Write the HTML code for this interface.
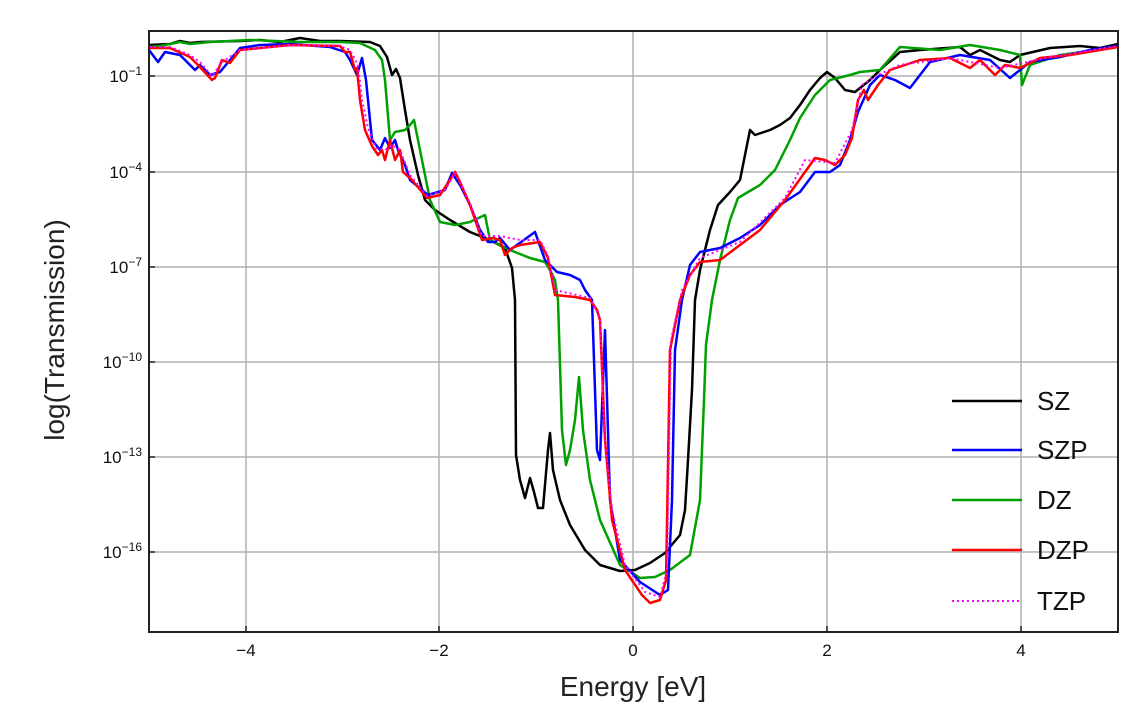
<!DOCTYPE html>
<html><head><style>body{margin:0;background:#fff}</style></head><body>
<svg width="1131" height="718" viewBox="0 0 1131 718" xmlns="http://www.w3.org/2000/svg" font-family="Liberation Sans, DejaVu Sans, sans-serif">
<rect width="1131" height="718" fill="#fff"/>
<g stroke="#b0b0b0" stroke-width="1.5">
<line x1="246" y1="31" x2="246" y2="632"/><line x1="439" y1="31" x2="439" y2="632"/><line x1="633" y1="31" x2="633" y2="632"/><line x1="827" y1="31" x2="827" y2="632"/><line x1="1021" y1="31" x2="1021" y2="632"/>
<line x1="149" y1="76" x2="1118" y2="76"/><line x1="149" y1="172" x2="1118" y2="172"/><line x1="149" y1="267" x2="1118" y2="267"/><line x1="149" y1="362" x2="1118" y2="362"/><line x1="149" y1="457" x2="1118" y2="457"/><line x1="149" y1="552" x2="1118" y2="552"/>
</g>
<g stroke="#222" stroke-width="1.5">
<line x1="246" y1="632" x2="246" y2="626"/><line x1="439" y1="632" x2="439" y2="626"/><line x1="633" y1="632" x2="633" y2="626"/><line x1="827" y1="632" x2="827" y2="626"/><line x1="1021" y1="632" x2="1021" y2="626"/>
<line x1="149" y1="76" x2="155" y2="76"/><line x1="149" y1="172" x2="155" y2="172"/><line x1="149" y1="267" x2="155" y2="267"/><line x1="149" y1="362" x2="155" y2="362"/><line x1="149" y1="457" x2="155" y2="457"/><line x1="149" y1="552" x2="155" y2="552"/>
</g>
<g fill="none" stroke-width="2.5" stroke-linejoin="round">
<polyline stroke="#000" points="149,45 170,44 180,41 190,43 200,42 240,41 260,40 280,42 300,38 320,41 340,41 370,42 380,46 387,57 392,75 396,69 400,78 405,110 410,140 418,175 425,200 435,210 450,220 470,232 490,240 505,248 512,268 515,300 516,455 520,480 525,498 530,478 534,492 538,508 543,508 548,450 550,433 553,470 560,500 570,525 585,550 600,565 620,571 635,570 650,563 665,553 680,535 685,510 688,460 692,390 695,300 700,270 710,230 718,205 730,192 740,180 746,150 750,130 755,135 770,130 780,125 790,118 800,105 810,90 820,78 827,72 835,78 845,90 855,92 870,80 880,70 900,52 920,50 960,47 970,55 980,50 1000,60 1010,62 1020,55 1050,48 1080,46 1100,48 1118,44"/>
<polyline stroke="#00a000" points="149,47 160,46 170,44 180,42 190,44 210,42 250,40 300,42 340,42 360,43 375,50 382,60 385,80 390,140 395,132 405,130 410,125 414,120 418,140 422,160 430,200 440,222 455,225 470,222 485,215 490,240 500,245 510,250 530,258 545,262 550,270 555,280 558,300 562,430 566,465 570,450 575,420 579,377 583,430 590,480 600,520 620,565 640,578 655,577 670,570 690,555 700,500 704,400 706,345 712,300 720,260 730,220 738,198 760,185 775,170 790,140 800,118 815,95 830,80 850,75 860,72 880,70 900,47 940,50 970,45 1000,50 1020,55 1022,85 1030,65 1060,55 1118,47"/>
<polyline stroke="#0000ff" points="149,50 158,62 165,52 180,55 195,70 200,65 210,75 220,72 240,48 260,45 290,44 330,47 345,52 350,60 357,75 362,58 366,80 372,140 380,150 385,138 390,148 395,140 398,150 405,165 410,180 428,195 445,190 452,173 460,185 470,205 480,230 488,242 495,242 500,238 510,250 535,232 545,260 557,272 570,275 580,280 585,290 592,300 597,450 600,460 605,330 610,500 620,560 640,582 660,595 668,590 672,500 675,350 682,300 690,265 700,252 720,248 740,238 760,225 780,205 800,192 815,172 830,172 840,165 850,140 858,112 870,85 880,75 895,80 910,88 930,62 960,55 990,60 1010,78 1030,62 1060,57 1090,50 1118,46"/>
<polyline stroke="#ff0000" points="149,48 170,48 190,57 198,65 212,80 215,78 222,60 230,63 240,50 290,45 340,46 345,52 350,52 355,70 357,68 360,100 365,130 372,146 378,155 382,150 385,160 390,140 395,160 400,150 403,172 412,180 427,198 440,195 450,180 455,172 460,182 470,205 482,240 493,238 500,240 505,255 512,248 520,245 540,242 548,258 555,295 575,297 590,300 597,310 600,320 605,440 612,520 625,570 642,595 650,603 660,600 666,580 670,350 680,300 690,275 700,262 720,260 740,245 760,230 785,200 805,172 815,158 825,160 835,165 845,155 852,138 858,100 864,90 868,100 878,85 890,70 920,60 950,58 970,68 980,60 995,75 1005,65 1020,68 1040,58 1070,55 1118,47"/>
<polyline stroke="#ff00ff" stroke-width="2" stroke-dasharray="2,3" points="149,47 170,47 190,55 200,62 212,76 222,62 240,50 290,45 340,46 350,50 358,65 362,100 368,128 376,148 385,150 392,145 400,150 410,175 427,196 445,190 455,173 470,203 482,236 500,236 520,240 540,240 548,256 555,290 590,298 600,318 604,430 612,510 625,565 645,592 660,597 667,570 671,340 682,290 700,258 740,242 785,198 805,160 835,163 852,130 862,85 878,75 900,65 950,58 1000,68 1050,57 1118,46"/>
</g>
<rect x="149" y="31" width="969" height="601" fill="none" stroke="#222" stroke-width="2"/>
<g font-size="17" fill="#111" text-anchor="middle">
<text x="246" y="656">−4</text><text x="439" y="656">−2</text><text x="633" y="656">0</text><text x="827" y="656">2</text><text x="1021" y="656">4</text>
</g>
<g font-size="17" fill="#111" text-anchor="end">
<text x="142" y="82">10<tspan dy="-7" font-size="12">−1</tspan></text>
<text x="142" y="178">10<tspan dy="-7" font-size="12">−4</tspan></text>
<text x="142" y="273">10<tspan dy="-7" font-size="12">−7</tspan></text>
<text x="142" y="368">10<tspan dy="-7" font-size="12">−10</tspan></text>
<text x="142" y="463">10<tspan dy="-7" font-size="12">−13</tspan></text>
<text x="142" y="558">10<tspan dy="-7" font-size="12">−16</tspan></text>
</g>
<text x="633" y="696" font-size="28" text-anchor="middle" fill="#222">Energy [eV]</text>
<text transform="translate(64,330) rotate(-90)" font-size="28" text-anchor="middle" fill="#222">log(Transmission)</text>
<g stroke-width="2.5">
<line x1="952" y1="401" x2="1022" y2="401" stroke="#000"/>
<line x1="952" y1="450" x2="1022" y2="450" stroke="#0000ff"/>
<line x1="952" y1="500" x2="1022" y2="500" stroke="#00a000"/>
<line x1="952" y1="550" x2="1022" y2="550" stroke="#ff0000"/>
<line x1="952" y1="601" x2="1022" y2="601" stroke="#ff00ff" stroke-width="2" stroke-dasharray="2,3"/>
</g>
<g font-size="26" fill="#111">
<text x="1037" y="410">SZ</text><text x="1037" y="459">SZP</text><text x="1037" y="509">DZ</text><text x="1037" y="559">DZP</text><text x="1037" y="610">TZP</text>
</g>
</svg>
</body></html>
